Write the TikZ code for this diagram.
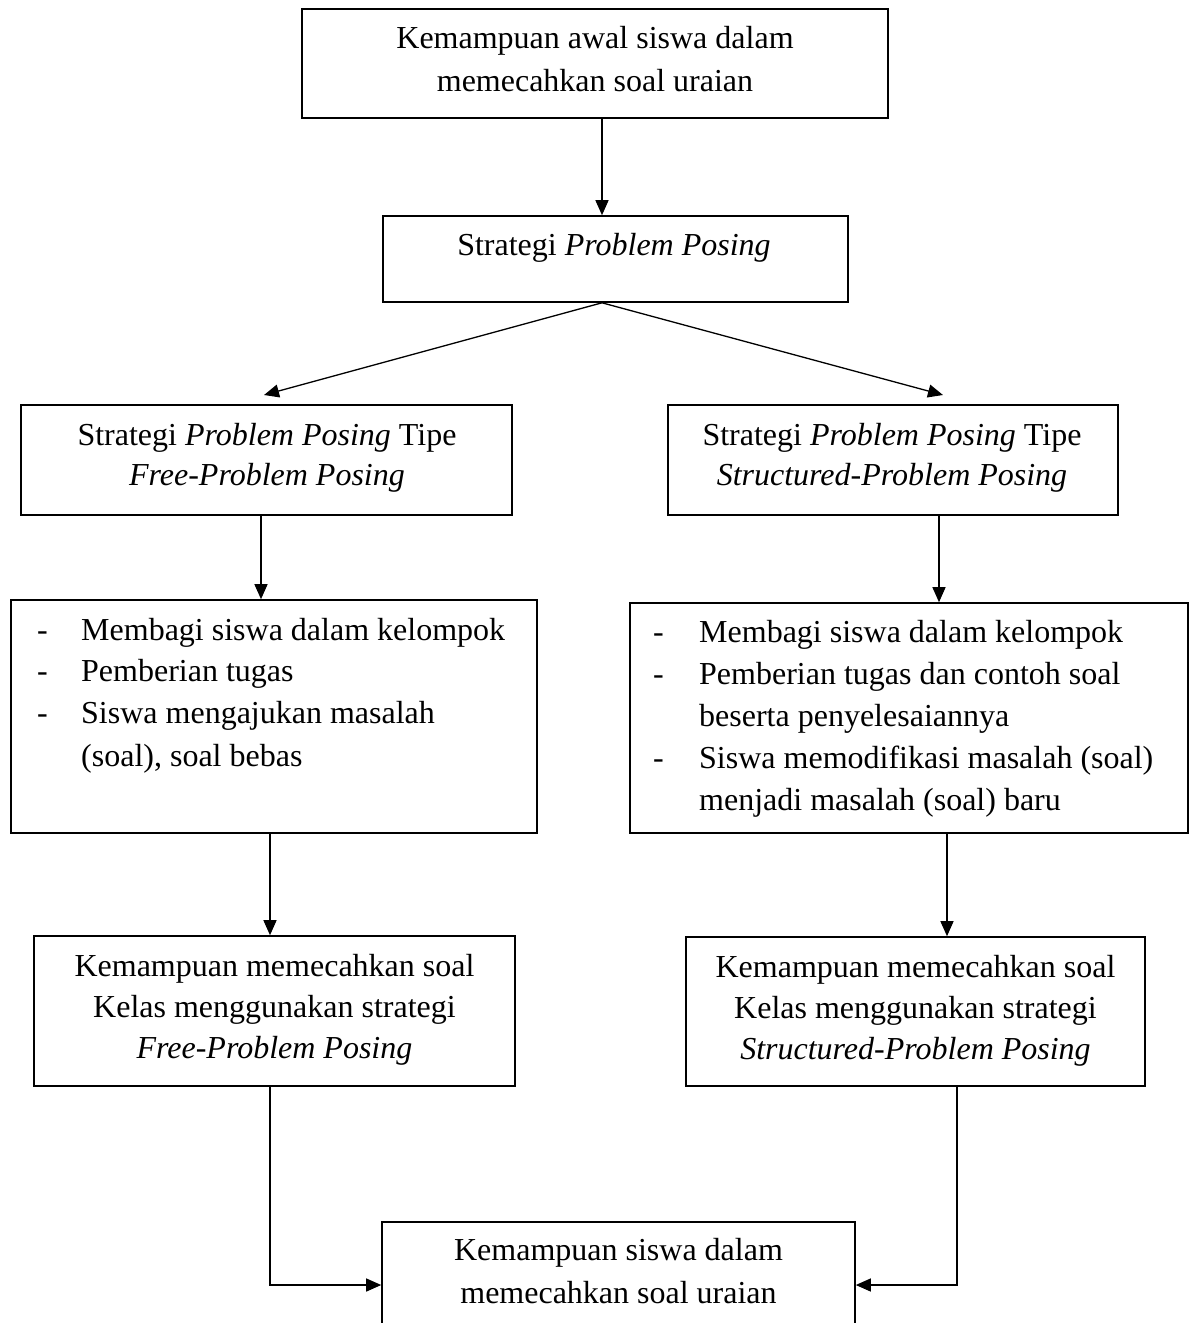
\documentclass[tikz,border=0pt]{standalone}
\usepackage{fontspec}
\setmainfont{Liberation Serif}
\usetikzlibrary{arrows.meta}
\begin{document}
\begin{tikzpicture}[x=1pt,y=-1pt,
  boxnode/.style={draw, line width=1.6pt, inner sep=0pt, rectangle},
  txt/.style={anchor=base, inner sep=0pt, font=\fontsize{32}{41}\selectfont},
  txtl/.style={anchor=base west, inner sep=0pt, font=\fontsize{32}{41}\selectfont},
  arr/.style={line width=1.3pt, -{Triangle[length=15pt,width=13pt]}},
  ln/.style={line width=1.3pt}]
\clip (0,0) rectangle (1192,1323);
\fill[white] (0,0) rectangle (1192,1323);
% boxes
\node[boxnode, minimum width=586pt, minimum height=109pt] (b1) at (595,63.5) {};
\node[boxnode, minimum width=465pt, minimum height=86pt] (b2) at (615.5,259) {};
\node[boxnode, minimum width=491pt, minimum height=110pt] (b3) at (266.5,460) {};
\node[boxnode, minimum width=450pt, minimum height=110pt] (b4) at (893,460) {};
\node[boxnode, minimum width=526pt, minimum height=233pt] (b5) at (274,716.5) {};
\node[boxnode, minimum width=558pt, minimum height=230pt] (b6) at (909,718) {};
\node[boxnode, minimum width=481pt, minimum height=150pt] (b7) at (274.5,1011) {};
\node[boxnode, minimum width=459pt, minimum height=149pt] (b8) at (915.5,1011.5) {};
\node[boxnode, minimum width=473pt, minimum height=130pt] (b9) at (618.5,1287) {};
% texts
\node[txt] (t1a) at (595,48) {Kemampuan awal siswa dalam};
\node[txt] (t1b) at (595,91) {memecahkan soal uraian};
\node[txt] (t2a) at (614,255) {Strategi \textit{Problem Posing}};
\node[txt] (t3a) at (267,445) {Strategi \textit{Problem Posing} Tipe};
\node[txt] (t3b) at (267,485) {\textit{Free-Problem Posing}};
\node[txt] (t4a) at (892,445) {Strategi \textit{Problem Posing} Tipe};
\node[txt] (t4b) at (892,485) {\textit{Structured-Problem Posing}};
% list left
\node[txtl] (d5a) at (37,640) {-};
\node[txtl] (d5b) at (37,681) {-};
\node[txtl] (d5c) at (37,723) {-};
\node[txtl] (t5a) at (81,640) {Membagi siswa dalam kelompok};
\node[txtl] (t5b) at (81,681) {Pemberian tugas};
\node[txtl] (t5c) at (81,723) {Siswa mengajukan masalah};
\node[txtl] (t5d) at (81,766) {(soal), soal bebas};
% list right
\node[txtl] (d6a) at (653,642) {-};
\node[txtl] (d6b) at (653,684) {-};
\node[txtl] (d6c) at (653,768) {-};
\node[txtl] (t6a) at (699,642) {Membagi siswa dalam kelompok};
\node[txtl] (t6b) at (699,684) {Pemberian tugas dan contoh soal};
\node[txtl] (t6c) at (699,726) {beserta penyelesaiannya};
\node[txtl] (t6d) at (699,768) {Siswa memodifikasi masalah (soal)};
\node[txtl] (t6e) at (699,810) {menjadi masalah (soal) baru};
% result boxes
\node[txt] (t7a) at (274.5,976) {Kemampuan memecahkan soal};
\node[txt] (t7b) at (274.5,1017) {Kelas menggunakan strategi};
\node[txt] (t7c) at (274.5,1058) {\textit{Free-Problem Posing}};
\node[txt] (t8a) at (915.5,977) {Kemampuan memecahkan soal};
\node[txt] (t8b) at (915.5,1018) {Kelas menggunakan strategi};
\node[txt] (t8c) at (915.5,1059) {\textit{Structured-Problem Posing}};
\node[txt] (t9a) at (618.5,1260) {Kemampuan siswa dalam};
\node[txt] (t9b) at (618.5,1303) {memecahkan soal uraian};
% connector guides
\coordinate (c12) at (602,0);
\coordinate (tl) at (264,395);
\coordinate (tr) at (943,395);
\coordinate (c35) at (261,0);
\coordinate (c46) at (939,0);
\coordinate (c57) at (270,0);
\coordinate (c68) at (947,0);
\coordinate (c79) at (270,0);
\coordinate (c89) at (957,0);
\coordinate (cy9) at (0,1285);
% connectors
\draw[arr] (b1.south -| c12) -- (b2.north -| c12);
\draw[arr] (b2.south -| c12) -- (tl);
\draw[arr] (b2.south -| c12) -- (tr);
\draw[arr] (b3.south -| c35) -- (b5.north -| c35);
\draw[arr] (b4.south -| c46) -- (b6.north -| c46);
\draw[arr] (b5.south -| c57) -- (b7.north -| c57);
\draw[arr] (b6.south -| c68) -- (b8.north -| c68);
\draw[arr] (b7.south -| c79) |- (b9.west |- cy9);
\draw[arr] (b8.south -| c89) |- (b9.east |- cy9);
\end{tikzpicture}
\end{document}
